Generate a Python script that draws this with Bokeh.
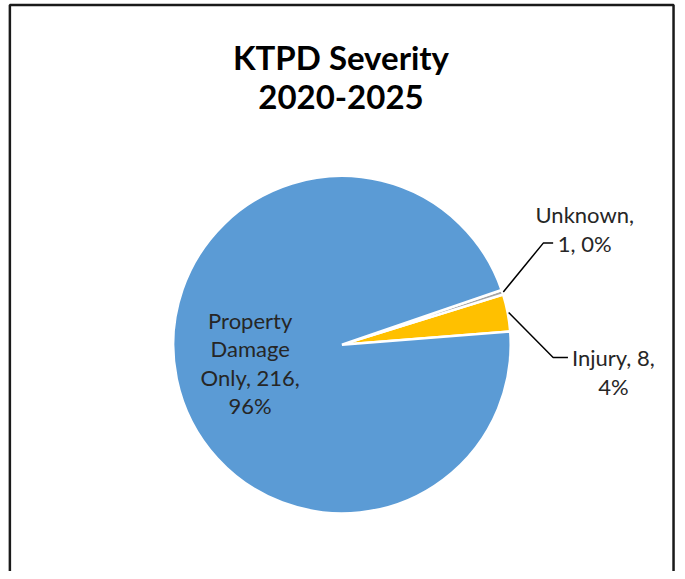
import math
import textwrap
from bokeh.plotting import figure
from bokeh.models import Range1d, ColumnDataSource
from bokeh.core.properties import value
from bokeh.embed import file_html
from bokeh.resources import INLINE

# ---- data ----
categories = ["Injury", "Unknown", "Property Damage Only"]
counts = [8, 1, 216]
colors = ["#FFC000", "#A5A5A5", "#5B9BD5"]
title_lines = ["KTPD Severity", "2020-2025"]

W, H = 676, 571
SX, SY = W / 685, H / 579
def X(px):
    return px * SX
def Y(py):
    return H - py * SY

p = figure(width=W, height=H, output_backend="svg", toolbar_location=None,
           x_range=Range1d(0, W), y_range=Range1d(0, H), min_border=0)
p.axis.visible = False
p.grid.visible = False
p.outline_line_color = None
p.background_fill_color = "white"
p.border_fill_color = "white"

# frame (left, top, right)
p.line([X(9.5), X(9.5), X(682), X(682)], [-10, Y(4.5), Y(4.5), -10],
       line_color="#1a1a1a", line_width=2.5)

# pie
cx, cy, R = X(346), Y(349), 171 * SX
total = sum(counts)
start0 = math.radians(4.5)
starts, ends = [], []
a = start0
for c in counts:
    starts.append(a)
    a += c / total * 2 * math.pi
    ends.append(a)
src = ColumnDataSource(dict(start=starts, end=ends, color=colors,
                            x=[cx] * 3, y=[cy] * 3))
p.wedge(x="x", y="y", radius=R, radius_units="screen", start_angle="start",
        end_angle="end", fill_color="color", line_color="white", line_width=2.5,
        source=src)

# labels
pcts = [round(c / total * 100) for c in counts]
labels = [f"{cat}, {c}, {pc}%" for cat, c, pc in zip(categories, counts, pcts)]
wrapped = [textwrap.wrap(l, 10) for l in labels]
label_font = value("Lato")
label_color = "#262626"
spacing = 29

def put_lines(lines, cx_px, first_base_py):
    xs, ys = [], []
    for i, _ in enumerate(lines):
        xs.append(X(cx_px))
        ys.append(Y(first_base_py + i * spacing))
    p.text(xs, ys, text=lines, text_font=label_font, text_font_size="22px",
           text_align="center", text_baseline="alphabetic", text_color=label_color)

# Injury
put_lines(wrapped[0], 621, 362)
# Unknown
put_lines(wrapped[1], 592, 217)
# Property Damage Only
put_lines(wrapped[2], 253, 324)

# leader lines
def mid(i):
    return (starts[i] + ends[i]) / 2
mi = mid(0)
p.line([cx + (R + 1) * math.cos(mi), X(560), X(575)],
       [cy + (R + 1) * math.sin(mi), Y(362), Y(362)], line_color="black", line_width=1.5)
mu = mid(1)
p.line([cx + (R + 1) * math.cos(mu), X(550), X(560)],
       [cy + (R + 1) * math.sin(mu), Y(246), Y(246)], line_color="black", line_width=1.5)

# title
p.text([X(345), X(345)], [Y(57), Y(98)], text=title_lines, text_font=value("Lato"),
       text_font_size="33px", text_font_style="bold", text_align="center",
       text_baseline="alphabetic", text_color="black")

open("out.html", "w").write(file_html(p, INLINE))
